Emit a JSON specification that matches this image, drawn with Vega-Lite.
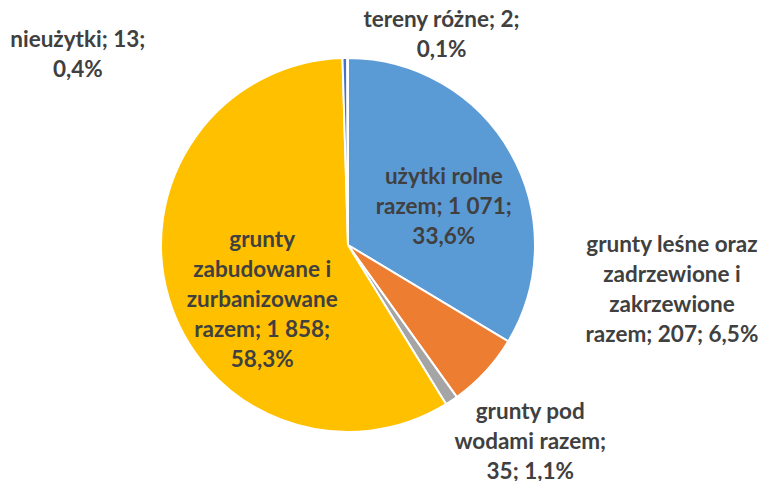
{
  "$schema": "https://vega.github.io/schema/vega-lite/v6.json",
  "width": 696,
  "height": 472,
  "autosize": "none",
  "padding": {"left": 0, "right": 63, "top": 9, "bottom": 0},
  "background": "white",
  "view": {"stroke": null},
  "config": {"text": {"font": "Lato", "fontWeight": "bold", "fontSize": 22.5, "lineHeight": 30, "fill": "#404040", "align": "center", "baseline": "middle"}},
  "data": {
    "values": [
      {"order": 1, "category": "użytki rolne razem", "value": 1071, "label": ["użytki rolne", "razem; 1 071;", "33,6%"]},
      {"order": 2, "category": "grunty leśne oraz zadrzewione i zakrzewione razem", "value": 207, "label": ["grunty leśne oraz", "zadrzewione i", "zakrzewione", "razem; 207; 6,5%"]},
      {"order": 3, "category": "grunty pod wodami razem", "value": 35, "label": ["grunty pod", "wodami razem;", "35; 1,1%"]},
      {"order": 4, "category": "grunty zabudowane i zurbanizowane razem", "value": 1858, "label": ["grunty", "zabudowane i", "zurbanizowane", "razem; 1 858;", "58,3%"]},
      {"order": 5, "category": "nieużytki", "value": 13, "label": ["nieużytki; 13;", "0,4%"]},
      {"order": 6, "category": "tereny różne", "value": 2, "label": ["tereny różne; 2;", "0,1%"]}
    ]
  },
  "encoding": {
    "theta": {"field": "value", "type": "quantitative", "stack": true},
    "order": {"field": "order", "type": "quantitative"}
  },
  "layer": [
    {
      "mark": {"type": "arc", "outerRadius": 187, "stroke": "white", "strokeWidth": 2},
      "encoding": {
        "color": {
          "field": "category",
          "type": "nominal",
          "scale": {
            "domain": ["użytki rolne razem", "grunty leśne oraz zadrzewione i zakrzewione razem", "grunty pod wodami razem", "grunty zabudowane i zurbanizowane razem", "nieużytki", "tereny różne"],
            "range": ["#5B9BD5", "#ED7D31", "#A5A5A5", "#FFC000", "#4472C4", "#70AD47"]
          },
          "legend": null
        }
      }
    },
    {
      "mark": {"type": "text", "radius": 102, "dx": 7, "dy": -18},
      "encoding": {"text": {"condition": {"test": "datum.order == 1", "field": "label"}, "value": ""}}
    },
    {
      "mark": {"type": "text", "radius": 200, "dx": 177, "dy": -136},
      "encoding": {"text": {"condition": {"test": "datum.order == 2", "field": "label"}, "value": ""}}
    },
    {
      "mark": {"type": "text", "radius": 210, "dx": 66, "dy": -8},
      "encoding": {"text": {"condition": {"test": "datum.order == 3", "field": "label"}, "value": ""}}
    },
    {
      "mark": {"type": "text", "radius": 100, "dx": 10, "dy": -34},
      "encoding": {"text": {"condition": {"test": "datum.order == 4", "field": "label"}, "value": ""}}
    },
    {
      "mark": {"type": "text", "radius": 190, "dx": -267, "dy": -15},
      "encoding": {"text": {"condition": {"test": "datum.order == 5", "field": "label"}, "value": ""}}
    },
    {
      "mark": {"type": "text", "radius": 210, "dx": 94, "dy": -15},
      "encoding": {"text": {"condition": {"test": "datum.order == 6", "field": "label"}, "value": ""}}
    }
  ]
}
